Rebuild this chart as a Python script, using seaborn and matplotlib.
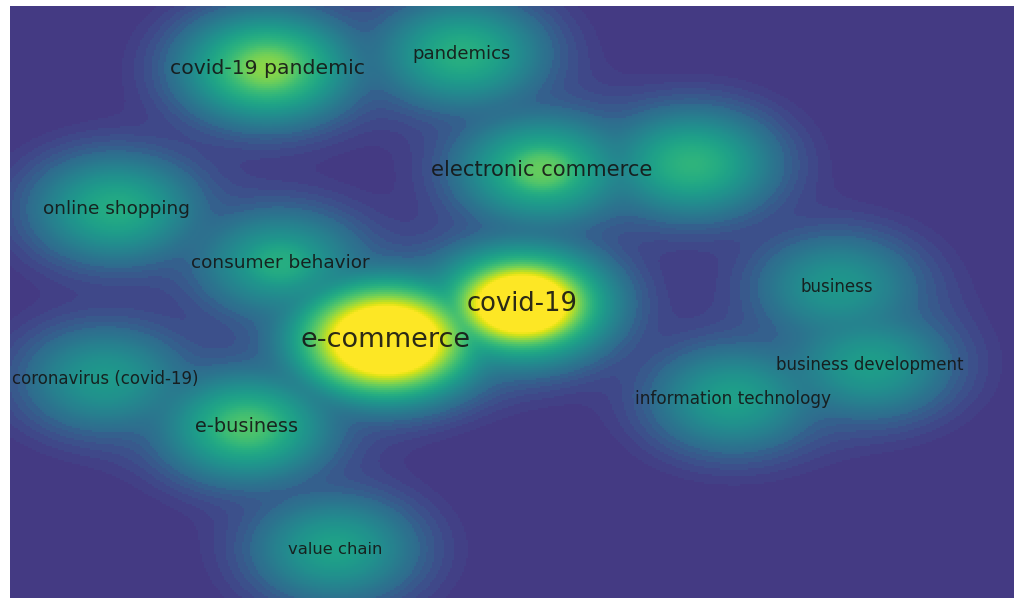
import numpy as np
import pandas as pd
import matplotlib
matplotlib.use("Agg")
import matplotlib.pyplot as plt
from matplotlib.colors import ListedColormap
import seaborn as sns

# Keyword density map: item positions (map px), body strength, core strength, label sizes
labels = ["e-commerce", "covid-19", "electronic commerce", "", "covid-19 pandemic",
          "pandemics", "online shopping", "consumer behavior", "coronavirus (covid-19)",
          "e-business", "value chain", "business", "business development",
          "information technology"]
pos_x = [376, 512, 532, 682, 257, 452, 106, 270, 95, 237, 325, 827, 860, 723]
pos_y = [334, 298, 164, 158, 62, 48, 203, 257, 373, 421, 543, 281, 359, 393]
body = [1.25, 0.98, 0.62, 0.58, 0.72, 0.56, 0.54, 0.50, 0.45, 0.63, 0.49, 0.44, 0.47, 0.48]
core = [0.15, 0.33, 0.10, 0.0, 0.07, 0.0, 0.0, 0.05, 0.0, 0.04, 0.0, 0.0, 0.0, 0.0]
core_rx = [58, 54, 30, 30, 30, 30, 30, 30, 30, 30, 30, 30, 30, 30]
core_ry = [37, 34, 20, 20, 20, 20, 20, 20, 20, 20, 20, 20, 20, 20]
font_sizes = [19.5, 18.6, 15.2, 0, 14.7, 13, 13.3, 13.3, 12, 13.9, 11.8, 12, 12, 12.2]

items = pd.DataFrame({"label": labels, "x": pos_x, "y": pos_y, "body": body,
                      "core": core, "crx": core_rx, "cry": core_ry, "fs": font_sizes})

# Density surface on a 2 px grid (Gaussian kernels, soft maximum)
width, height, step = 1004, 592, 2
sigma_x, sigma_y = 66.0, 43.0
tau = 0.075
gx = (np.arange(width // step) + 0.5) * step
gy = (np.arange(height // step) + 0.5) * step
XX, YY = np.meshgrid(gx, gy)
acc = np.ones_like(XX)
for _, it in items.iterrows():
    dx, dy = XX - it.x, YY - it.y
    g = it.body * np.exp(-0.5 * ((dx / sigma_x) ** 2 + (dy / sigma_y) ** 2))
    q = (dx / it.crx) ** 2 + (dy / it.cry) ** 2
    g = g + it.core * np.exp(-q ** 2)
    acc += np.expm1(g / tau)
density = tau * np.log(acc)
g_min, g_max, g_edge = 0.065, 1.0, 0.215
lo = g_min - 0.01
density = np.clip(density, lo, g_max)

# Viridis scale: stepped halo below the blob edge, smooth above it
base = matplotlib.colormaps["viridis"]
gv = np.linspace(lo, g_max, 1024)
idx = np.full_like(gv, 0.17)
hi = gv >= g_edge
idx[hi] = 0.34 + (1.0 - 0.34) * (gv[hi] - g_edge) / (g_max - g_edge)
mid = (gv >= g_min) & ~hi
frac = (gv[mid] - g_min) / (g_edge - g_min)
idx[mid] = 0.19 + np.floor(frac * 5) / 5 * (0.33 - 0.19)
cmap = ListedColormap(base(idx))

sns.set_theme(style="white")
fig = plt.figure(figsize=(10.14, 5.98), dpi=100, facecolor="white")
ax = fig.add_axes([10 / 1014, 0, 1004 / 1014, 592 / 598])
sns.heatmap(density, ax=ax, cmap=cmap, vmin=lo, vmax=g_max, cbar=False,
            xticklabels=False, yticklabels=False, rasterized=True)
ax.set_xlim(0, width / step)
ax.set_ylim(height / step, 0)
for s in ax.spines.values():
    s.set_visible(False)

for _, it in items.iterrows():
    if it.label:
        ax.text(it.x / step, it.y / step, it.label, fontsize=it.fs,
                family=["DejaVu Sans"], color="#151515", alpha=0.9,
                ha="center", va="center")

fig.savefig("out.png", dpi=100, facecolor="white")
